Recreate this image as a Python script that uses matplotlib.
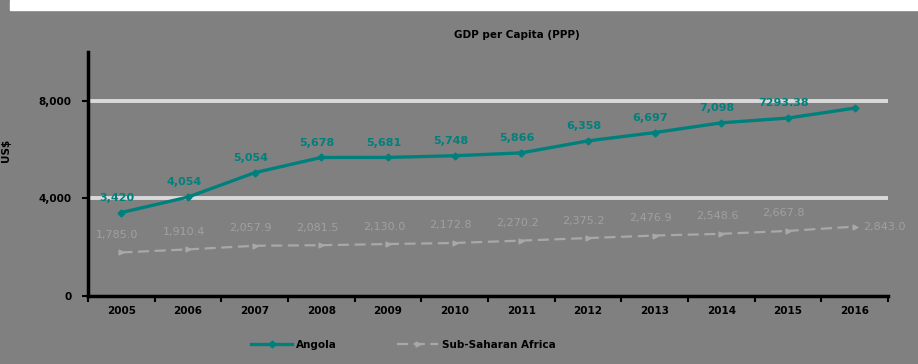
import matplotlib.pyplot as plt
import matplotlib.patches as patches
import numpy as np

years = ['2005', '2006', '2007', '2008', '2009', '2010', '2011', '2012', '2013', '2014', '2015', '2016']
angola = [3420, 4054, 5054, 5678, 5681, 5748, 5866, 6358, 6697, 7098, 7293.38, 7700]
angola_labels = ['3,420', '4,054', '5,054', '5,678', '5,681', '5,748', '5,866', '6,358',
                 '6,697', '7,098', '7293.38', '']
ssa = [1785.0, 1910.4, 2057.9, 2081.5, 2130.0, 2172.8, 2270.2, 2375.2, 2476.9, 2548.6, 2667.8, 2843.0]
ssa_labels = ['1,785.0', '1,910.4', '2,057.9', '2,081.5', '2,130.0', '2,172.8', '2,270.2',
              '2,375.2', '2,476.9', '2,548.6', '2,667.8', '2,843.0']
yticks = [0, 4000, 8000]
ytick_labels = ['0', '4,000', '8,000']

bg = '#808080'
teal = '#00807c'
grey = '#a8a8a8'

fig = plt.figure(figsize=(9.18, 3.64), dpi=100, facecolor=bg)
# white strip along the top edge
fig.patches.append(patches.Rectangle((10 / 918, 1 - 10 / 364), 1, 10 / 364,
                                     transform=fig.transFigure, color='white', zorder=0))

ax = fig.add_axes([88 / 918, (364 - 296) / 364, 800 / 918, 244 / 364])
ax.set_facecolor(bg)
x = np.arange(len(years))

for yv in [4000, 8000]:
    ax.axhline(yv, color='#d9d9d9', lw=2.8, zorder=1)

ax.plot(x, ssa, color=grey, lw=1.6, ls=(0, (5, 2.5)), marker='>', ms=3.5,
        markeredgecolor=grey, zorder=2, label='Sub-Saharan Africa')
ax.plot(x, angola, color=teal, lw=2.4, marker='D', ms=3.5,
        markeredgecolor=teal, zorder=3, label='Angola')

for xi, yv, t in zip(x, angola, angola_labels):
    if t:
        ax.annotate(t, (xi, yv), xytext=(-3, 7), textcoords='offset points',
                    ha='center', va='bottom', color=teal, fontsize=8, fontweight='bold')
for i, (xi, yv, t) in enumerate(zip(x, ssa, ssa_labels)):
    if i == len(x) - 1:
        ax.annotate(t, (xi, yv), xytext=(6, 0), textcoords='offset points',
                    ha='left', va='center', color='#a0a0a0', fontsize=8)
    else:
        ax.annotate(t, (xi, yv), xytext=(-3, 9), textcoords='offset points',
                    ha='center', va='bottom', color='#a0a0a0', fontsize=8)

ax.set_xlim(-0.5, len(years) - 0.5)
ax.set_ylim(0, 10000)
ax.set_xticks(x)
ax.set_xticklabels(years, fontsize=7.5, fontweight='bold')
ax.set_xticks(np.arange(-0.5, len(years)), minor=True)
ax.tick_params(axis='x', which='major', length=0, pad=7)
ax.tick_params(axis='x', which='minor', length=4, width=1.5, direction='out')
ax.set_yticks(yticks)
ax.set_yticklabels(ytick_labels, fontsize=7.5, fontweight='bold')
ax.tick_params(axis='y', length=4, width=1.5, pad=8)

for s in ['top', 'right']:
    ax.spines[s].set_visible(False)
for s in ['left', 'bottom']:
    ax.spines[s].set_linewidth(2.5)
    ax.spines[s].set_color('black')

fig.text(517 / 918, 1 - 35 / 364, 'GDP per Capita (PPP)', ha='center', va='center',
         fontsize=7.5, fontweight='bold')
fig.text(6 / 918, 1 - 150 / 364, 'US$', rotation=90, ha='center', va='center',
         fontsize=7.5, fontweight='bold')

handles, labels = ax.get_legend_handles_labels()
fig.legend(handles[::-1], labels[::-1], loc='center', bbox_to_anchor=(403 / 918, 1 - 345 / 364),
           ncol=2, frameon=False, prop={'weight': 'bold', 'size': 7.5},
           handlelength=4, columnspacing=5.8, handletextpad=0.3)

fig.savefig('out.png', dpi=100, facecolor=bg)
